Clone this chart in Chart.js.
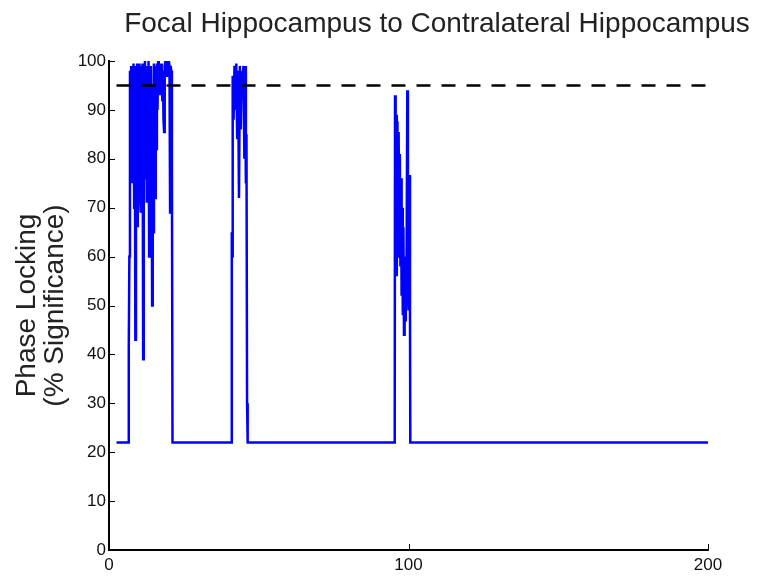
<!DOCTYPE html>
<html>
<head>
<meta charset="utf-8">
<script src="https://cdn.jsdelivr.net/npm/chart.js@4/dist/chart.umd.min.js"></script>
<style>
  html, body { margin: 0; padding: 0; background: #fff; }
  #wrap { width: 777px; height: 580px; }
</style>
</head>
<body>
<div id="wrap"><canvas id="myChart"></canvas></div>
<script>
const titleText = 'Focal Hippocampus to Contralateral Hippocampus';
const yLabel = ['Phase Locking', '(% Significance)'];

// time axis (x) and phase locking significance (y)
const timeX = [
    2.5, 6.5, 6.6, 6.8, 7.0, 7.2, 7.4, 7.6, 7.8, 8.0, 8.2, 8.4, 8.6, 8.8, 9.0, 9.2, 9.4, 9.6, 9.8,
    10.0, 10.2, 10.4, 10.6, 10.8, 11.0, 11.2, 11.4, 11.6, 11.8, 12.0, 12.2, 12.4, 12.6, 12.8,
    13.0, 13.2, 13.4, 13.6, 13.8, 14.0, 14.2, 14.4, 14.6, 14.8, 15.0, 15.2, 15.4, 15.6, 15.8,
    16.0, 16.2, 16.4, 16.6, 16.8, 17.0, 17.2, 17.4, 17.6, 17.8, 18.0, 18.2, 18.4, 18.6, 18.8,
    19.0, 19.2, 19.4, 19.6, 19.8, 20.0, 20.2, 20.4, 20.6, 20.8, 21.0, 21.2,
    40.8, 41.0, 41.1, 41.3, 41.6, 41.9, 42.2, 42.5, 42.8, 43.1, 43.4, 43.7, 44.0, 44.3, 44.6,
    44.9, 45.2, 45.5, 45.7, 45.9, 46.1, 46.3,
    95.2, 95.4, 95.5, 95.7, 95.9, 96.1, 96.3, 96.5, 96.7, 96.9, 97.1, 97.3, 97.5, 97.7, 97.9,
    98.1, 98.3, 98.5, 98.7, 98.9, 99.1, 99.3, 99.6, 99.8, 100.0, 100.3, 100.5, 100.6, 200
];
const plv = [
    22, 22, 41, 60, 98, 85, 99, 75, 99, 88, 99.5, 70, 99, 43, 99, 80, 99.5, 66, 99,
    86, 99.5, 72, 69, 99, 90, 99.5, 39, 97, 76, 100, 92, 99, 71, 98,
    80, 100, 60, 96, 73, 99, 88, 50, 95, 65, 99.5, 91, 72, 99, 82,
    99.5, 90, 100, 94, 99.5, 93, 99, 97, 99.5, 92, 98, 88, 85.5, 99, 100,
    99, 99.5, 97, 99.5, 99, 100, 99, 69, 99, 98, 80, 22,
    22, 65, 60, 97, 88, 99, 90, 99.5, 84, 98, 72, 99, 86, 98, 96,
    99, 80, 99, 75, 85, 30, 22,
    22, 26, 93, 56, 89, 56, 87.7, 60, 85.5, 65, 81, 58, 76, 52, 70,
    48, 66, 44, 60, 47, 55, 50, 94, 55, 49, 76.7, 49, 22, 22
];

// 95% significance threshold
const thresholdX = [2.5, 200];
const thresholdY = [95, 95];

const pairs = (xs, ys) => xs.map((x, i) => ({ x, y: ys[i] }));

// inward tick marks on the left and bottom axes, plus the title
const axisDecor = {
    id: 'axisDecor',
    afterDraw(chart) {
        const { ctx, scales: { x, y } } = chart;
        ctx.save();
        ctx.strokeStyle = '#000';
        ctx.lineWidth = 1;
        y.ticks.forEach(t => {
            const py = Math.round(y.getPixelForValue(t.value)) + 0.5;
            ctx.beginPath();
            ctx.moveTo(x.left, py);
            ctx.lineTo(x.left + 6, py);
            ctx.stroke();
        });
        x.ticks.forEach(t => {
            const px = Math.round(x.getPixelForValue(t.value)) + 0.5;
            ctx.beginPath();
            ctx.moveTo(px, y.bottom);
            ctx.lineTo(px, y.bottom - 6);
            ctx.stroke();
        });
        ctx.fillStyle = '#222';
        ctx.font = '28px "Liberation Sans", Arial, sans-serif';
        ctx.textAlign = 'center';
        ctx.textBaseline = 'middle';
        ctx.fillText(titleText, 437, 24);
        ctx.restore();
    }
};

const ctx = document.getElementById('myChart');
const chart = new Chart(ctx, {
    type: 'line',
    data: {
        datasets: [
            {
                data: pairs(timeX, plv),
                borderColor: 'rgb(0, 0, 255)',
                borderWidth: 2.5,
                pointRadius: 0,
                tension: 0,
                order: 2,
            },
            {
                data: pairs(thresholdX, thresholdY),
                borderColor: '#000',
                borderWidth: 2.5,
                borderDash: [14, 11],
                pointRadius: 0,
                order: 1,
            },
        ],
    },
    options: {
        responsive: true,
        maintainAspectRatio: false,
        animation: false,
        layout: { padding: { top: 61, right: 69, left: 0, bottom: 0 } },
        plugins: {
            legend: { display: false },
            tooltip: { enabled: false },
        },
        scales: {
            x: {
                type: 'linear',
                min: 0,
                max: 200,
                afterFit: s => { s.height = 30; },
                ticks: {
                    stepSize: 100,
                    color: '#111',
                    padding: 5,
                    maxRotation: 0,
                    font: { family: '"Liberation Sans", Arial, sans-serif', size: 17 },
                },
                grid: { display: true, drawOnChartArea: false, drawTicks: false },
                border: { display: true, color: '#000', width: 2 },
            },
            y: {
                min: 0,
                max: 100,
                afterFit: s => { s.width = 109; },
                ticks: {
                    stepSize: 10,
                    color: '#111',
                    padding: 3,
                    font: { family: '"Liberation Sans", Arial, sans-serif', size: 17 },
                },
                grid: { display: true, drawOnChartArea: false, drawTicks: false },
                border: { display: true, color: '#000', width: 2 },
                title: {
                    display: true,
                    text: yLabel,
                    color: '#222',
                    padding: { top: 13, bottom: 0 },
                    font: { family: '"Liberation Sans", Arial, sans-serif', size: 28, lineHeight: 1.0 },
                },
            },
        },
    },
    plugins: [axisDecor],
});
</script>
</body>
</html>
